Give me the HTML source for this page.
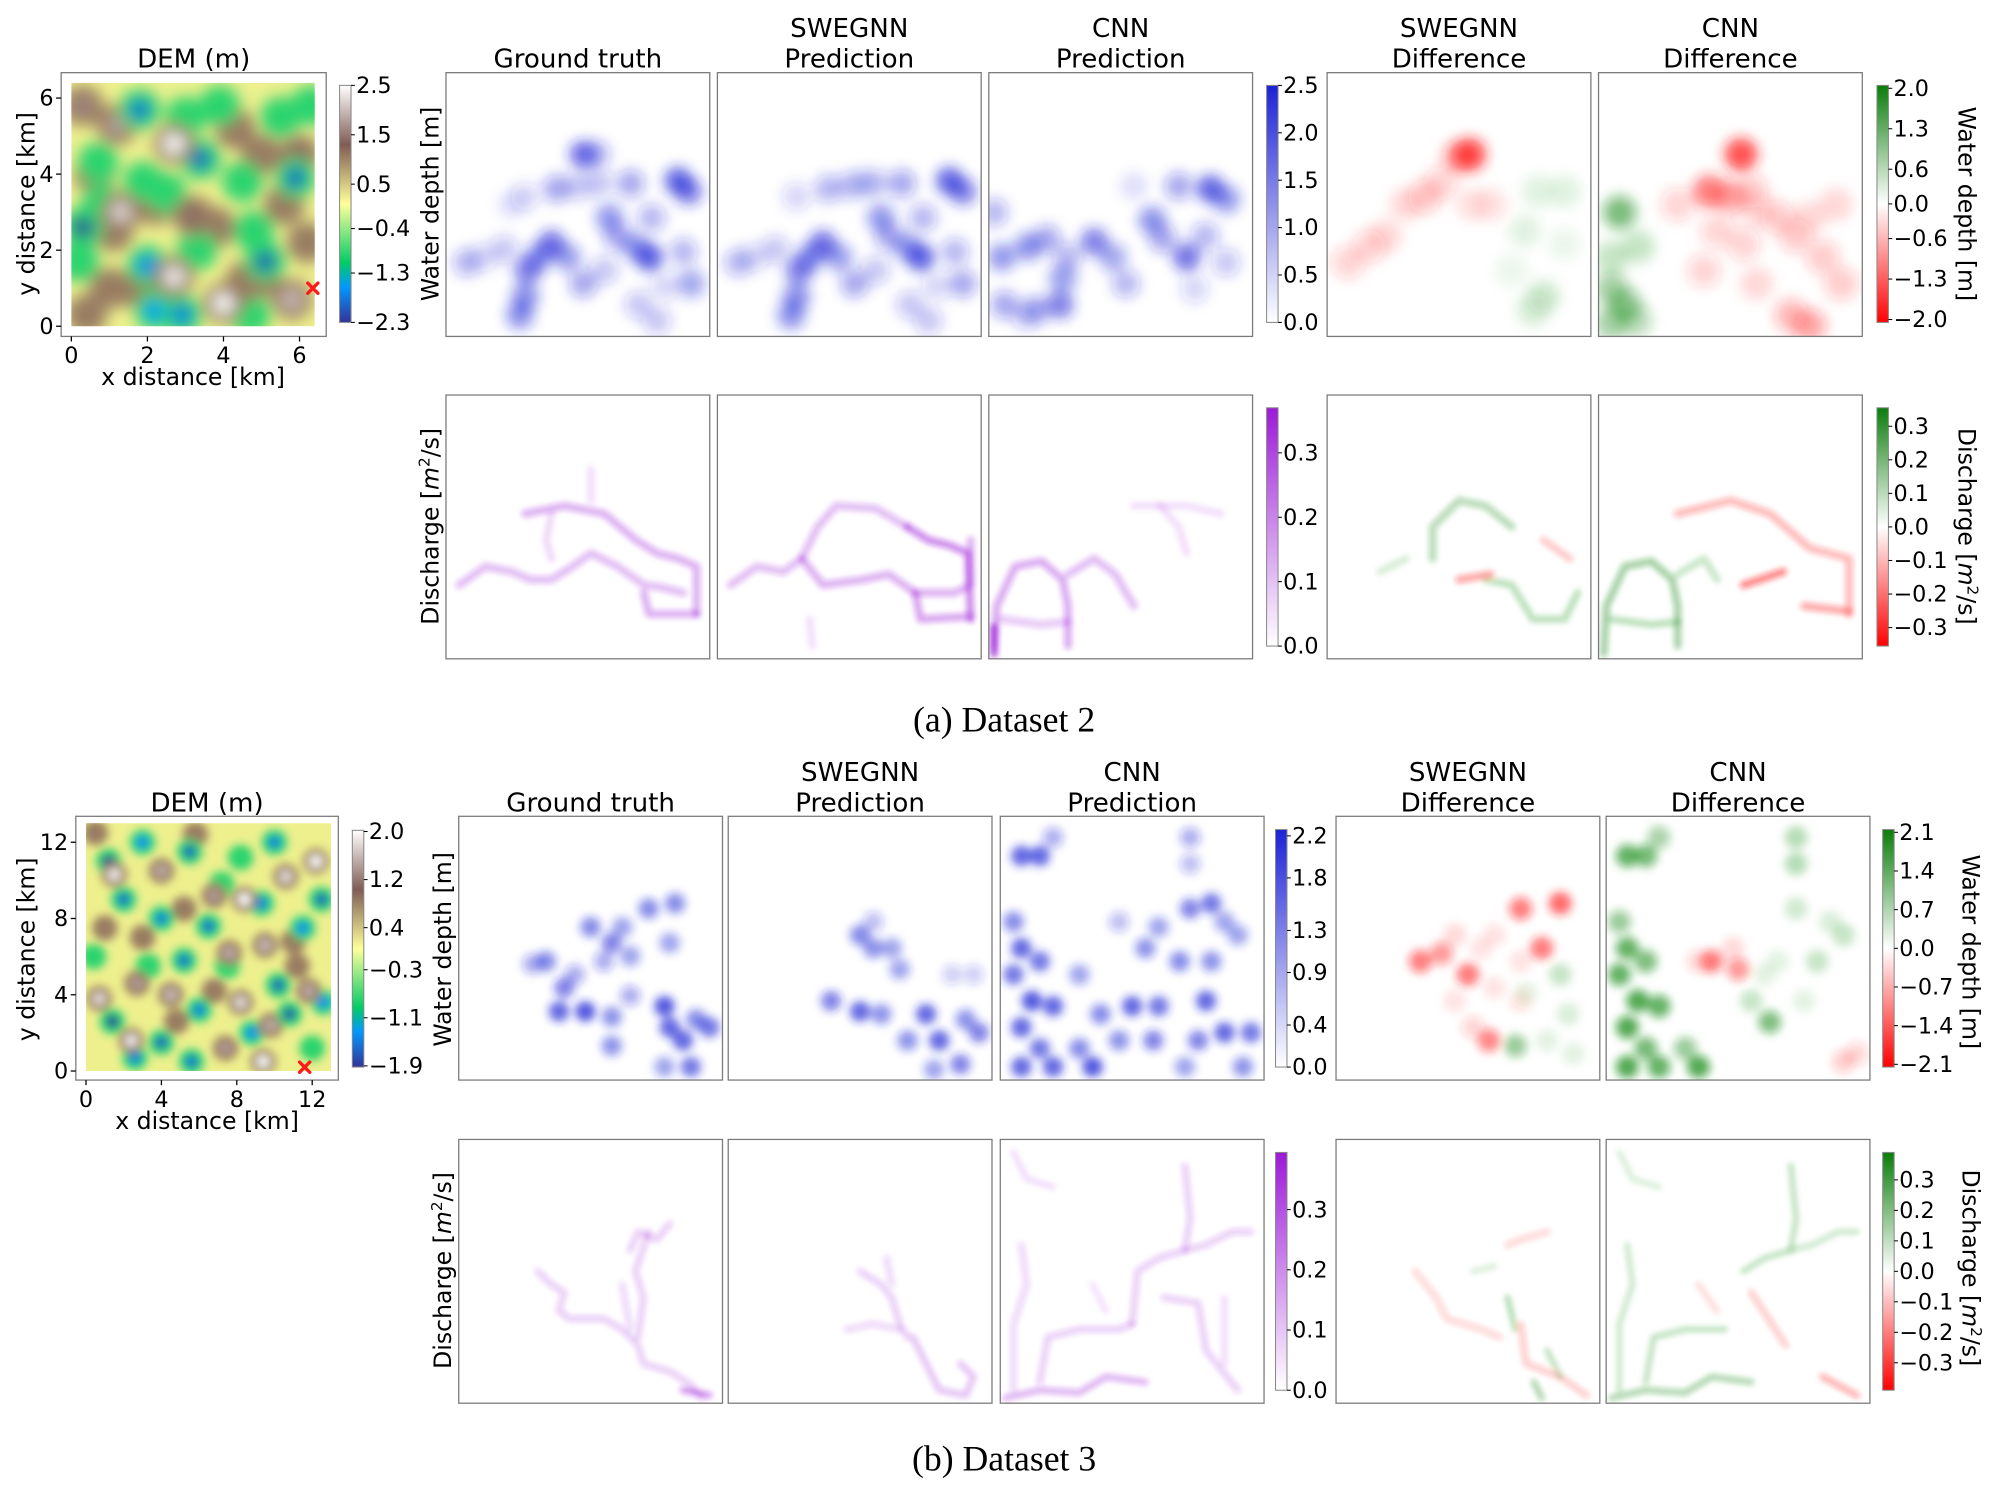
<!DOCTYPE html>
<html><head><meta charset="utf-8"><title>Flood prediction comparison</title>
<style>
html,body{margin:0;padding:0;background:#fff;}
svg{display:block;}
text{font-family:"DejaVu Sans","Liberation Sans",sans-serif;fill:#000;}
</style></head>
<body>
<svg id="fig" xmlns="http://www.w3.org/2000/svg" width="1998" height="1496" viewBox="0 0 1568 1174">
<defs>
<filter id="blurDemA" x="-20%" y="-20%" width="140%" height="140%"><feGaussianBlur stdDeviation="6"/></filter>
<filter id="blurDemB" x="-20%" y="-20%" width="140%" height="140%"><feGaussianBlur stdDeviation="3.5"/></filter>
<filter id="blurA" x="-20%" y="-20%" width="140%" height="140%"><feGaussianBlur stdDeviation="5"/></filter>
<filter id="blurB" x="-20%" y="-20%" width="140%" height="140%"><feGaussianBlur stdDeviation="3.5"/></filter>
<filter id="blurL" x="-20%" y="-20%" width="140%" height="140%"><feGaussianBlur stdDeviation="2"/></filter>
</defs>
</svg>
<script>
// ---------------- DATA ----------------
const demA = [[0.3,5.8,1.6],[1.2,5.3,1.8],[2.7,4.8,2.5],[1.3,3.0,2.2],[1.1,2.5,1.2],[3.2,2.9,1.4],[2.7,1.3,2.4],[4.0,0.6,2.5],[4.6,1.2,1.3],[5.8,0.7,2.0],[0.4,0.3,1.3],[1.0,1.0,1.2],[1.7,1.0,1.2],[5.0,1.3,1.0],[5.0,4.5,1.0],[4.3,5.2,0.8],[6.0,4.5,1.4],[6.2,2.2,1.2],[3.8,2.6,1.0],[0.6,4.0,0.6],[5.6,3.2,1.0],[2.2,3.2,0.6],
  [3.4,4.4,-2.0],[1.8,5.7,-1.9],[5.9,3.9,-2.0],[0.3,2.6,-2.3],[5.1,1.7,-2.1],[2.0,1.6,-1.7],[2.9,0.3,-1.8],[3.3,2.0,-1.3],[2.5,3.5,-1.1],[4.5,3.8,-1.0],[5.5,5.5,-1.1],[0.7,4.3,-1.0],[3.9,5.8,-1.0],[1.9,3.8,-1.0],[4.8,2.5,-1.0],[0.8,3.2,-0.9],[3.0,5.5,-0.9],[2.2,0.4,-1.6],[6.3,5.8,-1.2],[4.7,0.3,-1.0],[0.2,1.7,-0.9]];
const demB = [[1.2,11.0,-1.9],[3.0,12.0,-1.4],[5.5,11.5,-1.7],[8.2,11.2,-1.3],[10.0,12.0,-1.5],[12.5,9.0,-1.7],[2.0,9.0,-1.6],[4.0,8.0,-1.5],[6.5,7.6,-1.6],[9.3,8.8,-1.5],[11.5,7.5,-1.4],[0.4,6.0,-1.3],[3.3,5.5,-1.2],[5.2,5.8,-1.6],[7.5,5.5,-1.3],[10.2,4.5,-1.7],[12.6,3.6,-1.4],[1.4,2.6,-1.9],[4.0,1.5,-1.7],[6.0,3.2,-1.5],[8.8,2.0,-1.4],[10.8,3.0,-1.8],[2.6,0.7,-1.5],[5.6,0.5,-1.6],[12.0,1.2,-1.3],[7.2,9.8,-1.2],
  [1.5,10.3,1.9],[4.0,10.5,1.5],[6.8,9.2,1.4],[8.4,9.0,2.0],[10.6,10.2,1.8],[12.2,11.0,2.0],[1.0,7.5,1.3],[3.0,7.0,1.2],[5.2,8.5,1.3],[7.6,6.2,1.5],[9.5,6.6,1.6],[11.2,5.5,1.3],[0.7,3.8,1.8],[2.7,4.6,1.4],[4.5,4.0,1.6],[6.8,4.2,1.3],[8.2,3.6,1.8],[9.8,2.4,1.5],[11.8,4.2,1.5],[2.4,1.6,1.9],[4.8,2.6,1.2],[7.4,1.2,1.4],[9.4,0.5,2.0],[11.0,6.8,1.2],[5.8,12.4,1.2],[0.5,12.5,1.3]];

const wGtA = [[0.52,0.31,2.0],[0.57,0.31,1.0],[0.42,0.44,1.2],[0.5,0.43,0.8],[0.58,0.42,0.8],[0.7,0.42,1.2],[0.88,0.41,2.2],[0.92,0.45,1.8],[0.62,0.55,1.5],[0.65,0.62,1.2],[0.78,0.55,1.0],[0.77,0.7,2.3],[0.72,0.66,1.5],[0.9,0.68,1.0],[0.93,0.8,1.3],[0.83,0.81,0.6],[0.73,0.88,0.8],[0.8,0.94,0.8],[0.4,0.65,2.0],[0.35,0.7,1.6],[0.31,0.75,1.8],[0.3,0.85,1.6],[0.28,0.92,1.6],[0.46,0.7,1.4],[0.52,0.8,1.2],[0.22,0.67,0.8],[0.14,0.7,0.6],[0.08,0.72,1.0],[0.3,0.47,0.6],[0.25,0.5,0.4],[0.6,0.75,0.8]];
const wSweA = [[0.55,0.42,0.8],[0.42,0.44,1.0],[0.5,0.43,0.8],[0.6,0.42,0.8],[0.7,0.42,1.2],[0.88,0.41,2.2],[0.93,0.45,1.8],[0.62,0.55,1.5],[0.65,0.62,1.2],[0.78,0.55,1.0],[0.77,0.7,2.3],[0.72,0.66,1.5],[0.9,0.68,1.0],[0.93,0.8,1.2],[0.83,0.81,0.6],[0.73,0.88,0.8],[0.8,0.94,0.8],[0.4,0.65,2.0],[0.35,0.7,1.6],[0.31,0.75,1.8],[0.3,0.85,1.6],[0.28,0.92,1.6],[0.46,0.7,1.4],[0.52,0.8,1.2],[0.22,0.67,0.8],[0.14,0.7,0.6],[0.08,0.72,1.0],[0.3,0.47,0.6],[0.6,0.75,0.8]];
const wCnnA = [[0.02,0.53,1.0],[0.05,0.7,1.5],[0.15,0.66,1.6],[0.22,0.63,1.2],[0.3,0.7,1.0],[0.4,0.64,1.8],[0.47,0.7,1.3],[0.52,0.8,1.0],[0.28,0.78,1.4],[0.27,0.88,1.8],[0.18,0.9,1.2],[0.06,0.88,1.2],[0.14,0.92,0.8],[0.62,0.56,1.6],[0.66,0.63,1.2],[0.75,0.7,2.0],[0.82,0.62,1.0],[0.72,0.43,1.2],[0.84,0.44,2.2],[0.9,0.48,1.5],[0.9,0.72,0.8],[0.78,0.82,0.6],[0.55,0.43,0.4]];
const dSweA = [[0.54,0.31,-2.0],[0.5,0.32,-1.0],[0.37,0.47,-0.6],[0.43,0.42,-0.5],[0.3,0.5,-0.4],[0.08,0.72,-0.5],[0.16,0.66,-0.5],[0.22,0.62,-0.4],[0.55,0.5,-0.3],[0.62,0.5,-0.3],[0.75,0.6,0.3],[0.8,0.45,0.3],[0.9,0.45,0.3],[0.82,0.85,0.5],[0.78,0.9,0.4],[0.9,0.65,0.2],[0.7,0.75,0.2]];
const dCnnA = [[0.54,0.31,-2.0],[0.42,0.45,-1.5],[0.5,0.47,-1.0],[0.58,0.45,-0.6],[0.45,0.6,-0.5],[0.55,0.65,-0.5],[0.4,0.75,-0.5],[0.6,0.8,-0.4],[0.68,0.55,-0.6],[0.75,0.62,-0.6],[0.85,0.7,-0.6],[0.92,0.8,-0.6],[0.8,0.55,-0.4],[0.9,0.5,-0.4],[0.73,0.92,-0.8],[0.8,0.96,-1.0],[0.6,0.52,-0.4],[0.3,0.5,-0.5],[0.08,0.53,1.5],[0.05,0.7,0.6],[0.15,0.66,0.6],[0.05,0.82,1.0],[0.1,0.88,1.2],[0.05,0.95,1.0],[0.14,0.94,0.8]];

const wGtB = [[0.33,0.55,1.5],[0.28,0.56,1.0],[0.5,0.42,1.5],[0.58,0.48,1.6],[0.62,0.42,1.2],[0.55,0.55,1.0],[0.65,0.53,1.2],[0.72,0.35,1.5],[0.82,0.33,1.5],[0.8,0.48,1.2],[0.4,0.65,1.6],[0.38,0.74,2.0],[0.48,0.74,2.2],[0.58,0.76,1.4],[0.65,0.68,1.0],[0.78,0.72,2.2],[0.8,0.8,2.0],[0.85,0.85,2.0],[0.9,0.77,1.5],[0.95,0.8,1.8],[0.88,0.95,1.8],[0.78,0.95,1.2],[0.58,0.87,1.4],[0.44,0.6,1.0]];
const wSweB = [[0.5,0.45,1.5],[0.55,0.5,1.4],[0.62,0.5,1.2],[0.65,0.58,1.2],[0.39,0.7,1.6],[0.5,0.74,2.0],[0.58,0.75,1.4],[0.75,0.75,2.0],[0.8,0.85,2.0],[0.9,0.77,1.4],[0.95,0.82,1.6],[0.88,0.94,1.6],[0.78,0.96,1.2],[0.68,0.85,1.4],[0.85,0.6,0.6],[0.93,0.6,0.6],[0.55,0.4,0.8]];
const wCnnB = [[0.08,0.15,2.0],[0.15,0.15,2.0],[0.2,0.08,1.0],[0.05,0.4,1.5],[0.08,0.5,2.0],[0.05,0.6,1.8],[0.15,0.55,1.8],[0.12,0.7,2.2],[0.2,0.72,2.0],[0.08,0.8,2.0],[0.15,0.88,1.8],[0.08,0.95,2.0],[0.2,0.95,2.0],[0.35,0.95,2.2],[0.3,0.88,1.5],[0.38,0.75,1.5],[0.5,0.72,2.0],[0.6,0.72,1.8],[0.45,0.85,1.4],[0.58,0.85,1.6],[0.68,0.55,1.5],[0.55,0.5,1.4],[0.6,0.42,1.2],[0.72,0.35,1.6],[0.8,0.33,1.8],[0.85,0.4,1.2],[0.8,0.55,1.4],[0.9,0.45,1.2],[0.78,0.7,2.0],[0.85,0.82,2.0],[0.95,0.82,1.8],[0.75,0.85,1.6],[0.92,0.95,1.4],[0.7,0.95,1.2],[0.45,0.4,0.8],[0.72,0.18,0.8],[0.72,0.08,1.0],[0.3,0.6,1.2]];
const dSweB = [[0.32,0.55,-1.5],[0.4,0.52,-1.2],[0.5,0.6,-1.6],[0.7,0.35,-1.5],[0.85,0.33,-1.8],[0.78,0.5,-1.6],[0.58,0.85,-1.4],[0.52,0.8,-0.5],[0.45,0.45,-0.4],[0.55,0.5,-0.3],[0.6,0.65,-0.3],[0.45,0.7,-0.3],[0.7,0.7,-0.3],[0.7,0.55,-0.3],[0.6,0.45,-0.3],[0.68,0.87,1.2],[0.85,0.6,0.6],[0.88,0.75,0.4],[0.8,0.85,0.3],[0.9,0.9,0.3],[0.72,0.67,0.3]];
const dCnnB = [[0.4,0.55,-1.5],[0.5,0.58,-1.2],[0.35,0.55,-0.5],[0.48,0.5,-0.4],[0.9,0.93,-0.6],[0.95,0.9,-0.5],[0.08,0.15,1.8],[0.15,0.15,1.6],[0.2,0.08,1.0],[0.05,0.4,1.2],[0.08,0.5,1.8],[0.05,0.6,1.8],[0.15,0.55,1.5],[0.12,0.7,2.0],[0.2,0.72,1.8],[0.08,0.8,2.0],[0.15,0.88,1.6],[0.08,0.95,2.0],[0.2,0.95,1.8],[0.35,0.95,2.0],[0.3,0.88,1.2],[0.62,0.78,1.5],[0.55,0.7,0.6],[0.72,0.35,0.5],[0.85,0.4,0.4],[0.8,0.55,0.6],[0.9,0.45,0.6],[0.72,0.18,0.8],[0.72,0.08,0.8],[0.65,0.55,0.3],[0.75,0.7,0.3],[0.6,0.6,0.3]];

const qGtA = [{v:0.12,p:[[0.05,0.72],[0.15,0.65],[0.25,0.67],[0.32,0.7],[0.4,0.7],[0.48,0.65],[0.55,0.6],[0.65,0.65],[0.75,0.72],[0.82,0.73],[0.9,0.75]]},{v:0.14,p:[[0.3,0.45],[0.45,0.42],[0.6,0.45],[0.72,0.55],[0.8,0.6],[0.88,0.62],[0.95,0.65],[0.95,0.83]]},{v:0.14,p:[[0.75,0.75],[0.77,0.83],[0.95,0.83]]},{v:0.06,p:[[0.4,0.45],[0.38,0.55],[0.4,0.62]]},{v:0.05,p:[[0.55,0.28],[0.55,0.4]]}];
const qSweA = [{v:0.12,p:[[0.05,0.72],[0.15,0.65],[0.25,0.67],[0.32,0.62],[0.38,0.5],[0.45,0.42],[0.6,0.43],[0.72,0.5]]},{v:0.14,p:[[0.32,0.62],[0.4,0.72],[0.55,0.7],[0.65,0.68],[0.75,0.75],[0.9,0.75],[0.96,0.72],[0.96,0.55]]},{v:0.2,p:[[0.72,0.5],[0.8,0.55],[0.88,0.57],[0.95,0.6],[0.96,0.85]]},{v:0.16,p:[[0.75,0.75],[0.77,0.85],[0.96,0.84]]},{v:0.05,p:[[0.35,0.85],[0.36,0.95]]}];
const qCnnA = [{v:0.15,p:[[0.02,0.95],[0.03,0.8],[0.1,0.65],[0.2,0.63],[0.28,0.7],[0.3,0.8],[0.3,0.95]]},{v:0.12,p:[[0.3,0.68],[0.4,0.62],[0.48,0.68],[0.55,0.8]]},{v:0.1,p:[[0.05,0.85],[0.2,0.87],[0.3,0.86]]},{v:0.05,p:[[0.65,0.42],[0.72,0.5],[0.75,0.6]]},{v:0.05,p:[[0.55,0.42],[0.75,0.42],[0.88,0.45]]},{v:0.3,p:[[0.02,0.88],[0.02,0.98]]}];
const qdSweA = [{v:0.12,p:[[0.4,0.62],[0.4,0.5],[0.5,0.4],[0.6,0.42],[0.7,0.5]]},{v:0.1,p:[[0.6,0.7],[0.7,0.72],[0.78,0.85],[0.9,0.85],[0.95,0.75]]},{v:0.06,p:[[0.2,0.67],[0.3,0.62]]},{v:-0.15,p:[[0.5,0.7],[0.62,0.68]]},{v:-0.08,p:[[0.82,0.55],[0.92,0.62]]}];
const qdCnnA = [{v:0.15,p:[[0.02,0.98],[0.03,0.8],[0.1,0.65],[0.2,0.63],[0.28,0.7],[0.3,0.8],[0.3,0.95]]},{v:0.1,p:[[0.05,0.85],[0.2,0.87],[0.3,0.86]]},{v:0.08,p:[[0.3,0.68],[0.4,0.62],[0.45,0.7]]},{v:-0.12,p:[[0.3,0.45],[0.5,0.4],[0.65,0.45],[0.8,0.58],[0.95,0.62],[0.95,0.83]]},{v:-0.2,p:[[0.55,0.72],[0.7,0.67]]},{v:-0.15,p:[[0.78,0.8],[0.95,0.82]]}];

const qGtB = [{v:0.1,p:[[0.3,0.5],[0.35,0.55],[0.4,0.58],[0.38,0.65],[0.42,0.68],[0.55,0.68],[0.62,0.72],[0.68,0.78],[0.7,0.85],[0.8,0.88],[0.88,0.93],[0.92,0.98]]},{v:0.1,p:[[0.65,0.42],[0.68,0.35],[0.75,0.38],[0.8,0.32]]},{v:0.08,p:[[0.62,0.55],[0.65,0.72]]},{v:0.1,p:[[0.72,0.35],[0.67,0.5],[0.7,0.6],[0.68,0.75]]},{v:0.2,p:[[0.85,0.95],[0.95,0.97]]}];
const qSweB = [{v:0.1,p:[[0.5,0.5],[0.58,0.55],[0.62,0.6],[0.65,0.7],[0.68,0.75]]},{v:0.08,p:[[0.45,0.72],[0.55,0.7],[0.65,0.72]]},{v:0.12,p:[[0.7,0.75],[0.75,0.85],[0.8,0.95],[0.9,0.97],[0.93,0.9],[0.88,0.85]]},{v:0.08,p:[[0.6,0.45],[0.62,0.55]]}];
const qCnnB = [{v:0.15,p:[[0.02,0.98],[0.15,0.95],[0.3,0.96],[0.4,0.9],[0.55,0.92]]},{v:0.08,p:[[0.05,0.95],[0.05,0.7],[0.1,0.55],[0.08,0.4]]},{v:0.1,p:[[0.15,0.92],[0.18,0.75],[0.3,0.72],[0.45,0.72],[0.5,0.7]]},{v:0.1,p:[[0.5,0.7],[0.52,0.5],[0.6,0.45],[0.7,0.42],[0.72,0.3],[0.7,0.1]]},{v:0.1,p:[[0.7,0.42],[0.78,0.4],[0.88,0.35],[0.95,0.35]]},{v:0.1,p:[[0.62,0.6],[0.75,0.62],[0.78,0.8],[0.9,0.95]]},{v:0.06,p:[[0.05,0.05],[0.1,0.15],[0.2,0.18]]},{v:0.05,p:[[0.35,0.55],[0.4,0.65]]},{v:0.06,p:[[0.85,0.6],[0.85,0.85]]}];
const qdSweB = [{v:-0.08,p:[[0.3,0.5],[0.38,0.6],[0.42,0.68],[0.55,0.72],[0.62,0.75]]},{v:-0.08,p:[[0.65,0.4],[0.7,0.38],[0.8,0.35]]},{v:0.06,p:[[0.52,0.5],[0.6,0.48]]},{v:0.12,p:[[0.65,0.6],[0.68,0.72]]},{v:-0.1,p:[[0.7,0.7],[0.72,0.85],[0.85,0.9],[0.95,0.97]]},{v:0.1,p:[[0.8,0.8],[0.85,0.9]]},{v:0.15,p:[[0.75,0.92],[0.78,0.98]]}];
const qdCnnB = [{v:0.15,p:[[0.02,0.98],[0.15,0.95],[0.3,0.96],[0.4,0.9],[0.55,0.92]]},{v:0.08,p:[[0.05,0.95],[0.05,0.7],[0.1,0.55],[0.08,0.4]]},{v:0.1,p:[[0.15,0.92],[0.18,0.75],[0.3,0.72],[0.45,0.72]]},{v:0.1,p:[[0.52,0.5],[0.6,0.45],[0.7,0.42],[0.72,0.3],[0.7,0.1]]},{v:0.08,p:[[0.7,0.42],[0.78,0.4],[0.88,0.35],[0.95,0.35]]},{v:0.06,p:[[0.05,0.05],[0.1,0.15],[0.2,0.18]]},{v:-0.1,p:[[0.55,0.58],[0.68,0.78]]},{v:-0.15,p:[[0.82,0.9],[0.95,0.97]]},{v:-0.06,p:[[0.35,0.55],[0.42,0.65]]}];

const ticksDemA = [2.5,1.5,0.5,-0.4,-1.3,-2.3];
const ticksDemB = [2.0,1.2,0.4,-0.3,-1.1,-1.9];
const ticksWA = [0.0,0.5,1.0,1.5,2.0,2.5];
const ticksDWA = [2.0,1.3,0.6,0.0,-0.6,-1.3,-2.0];
const ticksQA = [0.0,0.1,0.2,0.3];
const ticksDQA = [0.3,0.2,0.1,0.0,-0.1,-0.2,-0.3];
const ticksWB = [0.0,0.4,0.9,1.3,1.8,2.2];
const ticksDWB = [2.1,1.4,0.7,0.0,-0.7,-1.4,-2.1];
const ticksQB = [0.0,0.1,0.2,0.3];
const ticksDQB = [0.3,0.2,0.1,0.0,-0.1,-0.2,-0.3];
const xTicksA = [0,2,4,6], yTicksA = [0,2,4,6];
const xTicksB = [0,4,8,12], yTicksB = [0,4,8,12];

// ---------------- DRAWING ----------------
const NS = 'http://www.w3.org/2000/svg';
const svg = document.getElementById('fig');
const defs = svg.querySelector('defs');
let uid = 0;
function mk(tag, attrs, parent) {
  const e = document.createElementNS(NS, tag);
  for (const k in attrs) e.setAttribute(k, attrs[k]);
  (parent || svg).appendChild(e);
  return e;
}
function fmt(v) { const s = v.toFixed(1); return v < 0 ? '\u2212' + s.slice(1) : s; }
const TER = [[0,[51,51,153]],[0.15,[0,153,255]],[0.25,[0,204,102]],[0.5,[255,255,153]],[0.75,[128,92,84]],[1,[255,255,255]]];
function terrain(t) {
  t = Math.max(0, Math.min(1, t));
  for (let i = 1; i < TER.length; i++) {
    if (t <= TER[i][0]) {
      const a = TER[i-1], b = TER[i], f = (t - a[0]) / (b[0] - a[0]);
      return 'rgb(' + a[1].map((c, j) => Math.round(c + (b[1][j] - c) * f)).join(',') + ')';
    }
  }
  return 'rgb(255,255,255)';
}
function gradient(stops) {
  const id = 'g' + (uid++);
  const g = mk('linearGradient', {id: id, x1: 0, y1: 1, x2: 0, y2: 0}, defs);
  stops.forEach(s => mk('stop', {offset: s[0], 'stop-color': s[1]}, g));
  return id;
}
function clip(x, y, w, h) {
  const id = 'c' + (uid++);
  const c = mk('clipPath', {id: id}, defs);
  mk('rect', {x: x, y: y, width: w, height: h}, c);
  return id;
}
function frame(x, y, w, h, name) {
  const r = mk('rect', {x: x, y: y, width: w, height: h, fill: 'none', stroke: '#7a7a7a', 'stroke-width': 1});
  
  
}
function label(x, y, str, size, anchor, name, extra) {
  const t = mk('text', Object.assign({x: x, y: y, 'font-size': size, 'text-anchor': anchor || 'middle'}, extra || {}));
  t.textContent = str;
  
  
  return t;
}
function blobPanel(x, y, w, h, blobs, color, max, r, filt, name) {
  const g = mk('g', {'clip-path': 'url(#' + clip(x, y, w, h) + ')'});
  
  
  const inner = mk('g', {filter: 'url(#' + filt + ')'}, g);
  const sx = u => x + u * w, sy = v => y + v * h;
  blobs.forEach(b => {
    const c = typeof color === 'function' ? color(b[2]) : color;
    const c1 = mk('circle', {cx: sx(b[0]), cy: sy(b[1]), r: r, fill: c, 'fill-opacity': Math.min(1, Math.abs(b[2]) / max * 0.75)}, inner);
    
    
  });
  frame(x, y, w, h, name);
}
function linePanel(x, y, w, h, lines, color, max, sw, name) {
  const g = mk('g', {'clip-path': 'url(#' + clip(x, y, w, h) + ')'});
  
  
  const inner = mk('g', {filter: 'url(#blurL)'}, g);
  const sx = u => x + u * w, sy = v => y + v * h;
  lines.forEach(l => {
    const c = typeof color === 'function' ? color(l.v) : color;
    const pl = mk('polyline', {points: l.p.map(p => sx(p[0]) + ',' + sy(p[1])).join(' '), fill: 'none', stroke: c, 'stroke-width': sw, 'stroke-linejoin': 'round', 'stroke-linecap': 'round', 'stroke-opacity': Math.min(1, Math.abs(l.v) / max * 0.9)}, inner);
    
    
  });
  frame(x, y, w, h, name);
}
function colorbar(x, y0, y1, w, vmin, vmax, stops, ticks, name) {
  const id = gradient(stops);
  const r = mk('rect', {x: x, y: y0, width: w, height: y1 - y0, fill: 'url(#' + id + ')', stroke: '#888', 'stroke-width': 0.8});
  
  
  const sy = v => y1 - (v - vmin) / (vmax - vmin) * (y1 - y0);
  ticks.forEach(t => {
    mk('line', {x1: x + w, x2: x + w + 3, y1: sy(t), y2: sy(t), stroke: '#000', 'stroke-width': 0.8});
    label(x + w + 4, sy(t) + 6, fmt(t), 17.5, 'start', name + '-tick');
  });
}
const sgnColor = v => v < 0 ? '#ff1a1a' : '#138a13';
const BLUE = '#1c22d6', PURPLE = '#9c1ad8';
const blueStops = [[0, '#ffffff'], [1, BLUE]];
const purpStops = [[0, '#ffffff'], [1, PURPLE]];
const diffStops = [[0, '#ff0000'], [0.5, '#ffffff'], [1, '#0a7d0a']];

function dem(bx, by, bw, bh, x0, x1, y0, y1, kmMax, blobs, hmin, hmax, r, filt, xt, yt, name) {
  const g = mk('g', {'clip-path': 'url(#' + clip(x0, y1, x1 - x0, y0 - y1) + ')'});
  
  
  const sx = k => x0 + k / kmMax * (x1 - x0), sy = k => y0 - k / kmMax * (y0 - y1);
  mk('rect', {x: x0, y: y1, width: x1 - x0, height: y0 - y1, fill: '#eef08e'}, g);
  const inner = mk('g', {filter: 'url(#' + filt + ')'}, g);
  const sorted = blobs.slice().sort((a, b) => Math.abs(a[2]) - Math.abs(b[2]));
  sorted.forEach(b => {
    const t = (b[2] - hmin) / (hmax - hmin);
    const c1 = mk('circle', {cx: sx(b[0]), cy: sy(b[1]), r: r, fill: terrain(b[2] < 0 ? 0.29 : 0.7)}, inner);
    
    
    if (Math.abs(b[2]) > 1.35) {
      const c2 = mk('circle', {cx: sx(b[0]), cy: sy(b[1]), r: r * 0.5, fill: terrain(t)}, inner);
      
      
    }
  });
  frame(bx, by, bw, bh, name);
  xt.forEach(k => { mk('line', {x1: sx(k), x2: sx(k), y1: by + bh, y2: by + bh + 4, stroke: '#000'}); label(sx(k), by + bh + 21, String(k), 17.5, 'middle', name + '-x-tick'); });
  yt.forEach(k => { mk('line', {x1: bx - 4, x2: bx, y1: sy(k), y2: sy(k), stroke: '#000'}); label(bx - 6, sy(k) + 6, String(k), 17.5, 'end', name + '-y-tick'); });
  return {sx: sx, sy: sy};
}
function marker(x, y, name) {
  const g = mk('g', {stroke: '#ff1a1a', 'stroke-width': 2.6, 'stroke-linecap': 'round'});
  
  
  mk('line', {x1: x - 4, y1: y - 4, x2: x + 4, y2: y + 4}, g);
  mk('line', {x1: x - 4, y1: y + 4, x2: x + 4, y2: y - 4}, g);
}
function rotLabel(x, y, angle, parts, name) {
  const t = mk('text', {x: 0, y: 0, 'font-size': 18.5, 'text-anchor': 'middle', transform: 'translate(' + x + ',' + y + ') rotate(' + angle + ')'});
  
  
  parts.forEach(p => { const s = mk('tspan', p[1] || {}, t); s.textContent = p[0]; });
}
const disParts = [['Discharge ['], ['m', {'font-style': 'italic'}], ['2', {'font-size': 12, dy: -7}], ['/s]', {dy: 7}]];

// ===== Part (a) =====
const da = dem(48, 57, 208, 207, 56, 247, 256, 65, 6.4, demA, -2.3, 2.5, 16, 'blurDemA', xTicksA, yTicksA, 'dem-a');
marker(da.sx(6.35), da.sy(1.0), 'outlet-marker-a');
label(152, 53, 'DEM (m)', 20.5, 'middle', 'dem-a-title');
label(151.5, 302, 'x distance [km]', 18.5, 'middle', 'dem-a-x-axis-title');
rotLabel(27, 160, -90, [['y distance [km]']], 'dem-a-y-axis-title');
colorbar(266.5, 67, 253, 9, -2.3, 2.5, [[0,'#333399'],[0.15,'#0099ff'],[0.25,'#00cc66'],[0.5,'#ffff99'],[0.75,'#805c54'],[1,'#ffffff']], ticksDemA, 'dem-a-colorbar');

const pxA = [350, 563, 776, 1041.5, 1254.5], pw = 207;
const titles = [['', 'Ground truth'], ['SWEGNN', 'Prediction'], ['CNN', 'Prediction'], ['SWEGNN', 'Difference'], ['CNN', 'Difference']];
function titlesAt(xs, y1, y2, tag) {
  xs.forEach((x, i) => {
    if (titles[i][0]) label(x + pw / 2, y1, titles[i][0], 20.5, 'middle', tag + '-title-top-' + i);
    label(x + pw / 2, y2, titles[i][1], 20.5, 'middle', tag + '-title-' + i);
  });
}
titlesAt(pxA, 29, 53, 'a');
blobPanel(pxA[0], 57, pw, 207, wGtA, BLUE, 2.5, 11, 'blurA', 'a-depth-ground-truth');
blobPanel(pxA[1], 57, pw, 207, wSweA, BLUE, 2.5, 11, 'blurA', 'a-depth-swegnn');
blobPanel(pxA[2], 57, pw, 207, wCnnA, BLUE, 2.5, 11, 'blurA', 'a-depth-cnn');
blobPanel(pxA[3], 57, pw, 207, dSweA, sgnColor, 2.0, 13, 'blurA', 'a-depth-swegnn-diff');
blobPanel(pxA[4], 57, pw, 207, dCnnA, sgnColor, 2.0, 13, 'blurA', 'a-depth-cnn-diff');
colorbar(994, 67, 253, 9, 0, 2.5, blueStops, ticksWA, 'a-depth-colorbar');
colorbar(1473, 67, 253, 9, -2.05, 2.05, diffStops, ticksDWA, 'a-depth-diff-colorbar');
rotLabel(344, 160, -90, [['Water depth [m]']], 'a-depth-y-title');
rotLabel(1537, 160, 90, [['Water depth [m]']], 'a-depth-diff-title');

linePanel(pxA[0], 310, pw, 207, qGtA, PURPLE, 0.37, 6, 'a-discharge-ground-truth');
linePanel(pxA[1], 310, pw, 207, qSweA, PURPLE, 0.37, 6, 'a-discharge-swegnn');
linePanel(pxA[2], 310, pw, 207, qCnnA, PURPLE, 0.37, 6, 'a-discharge-cnn');
linePanel(pxA[3], 310, pw, 207, qdSweA, sgnColor, 0.36, 6, 'a-discharge-swegnn-diff');
linePanel(pxA[4], 310, pw, 207, qdCnnA, sgnColor, 0.36, 6, 'a-discharge-cnn-diff');
colorbar(994, 320, 507, 9, 0, 0.37, purpStops, ticksQA, 'a-discharge-colorbar');
colorbar(1473, 320, 507, 9, -0.355, 0.355, diffStops, ticksDQA, 'a-discharge-diff-colorbar');
rotLabel(344, 413, -90, disParts, 'a-discharge-y-title');
rotLabel(1537, 413, 90, disParts, 'a-discharge-diff-title');
label(788, 574, '(a) Dataset 2', 28, 'middle', 'caption-a', {style: 'font-family:"Liberation Serif",serif'});

// ===== Part (b) =====
const db = dem(59.5, 640.6, 206, 207, 67.5, 259.8, 840.5, 646, 13.0, demB, -1.9, 2.0, 10, 'blurDemB', xTicksB, yTicksB, 'dem-b');
marker(db.sx(11.6), db.sy(0.2), 'outlet-marker-b');
label(162.5, 637, 'DEM (m)', 20.5, 'middle', 'dem-b-title');
label(162.5, 886, 'x distance [km]', 18.5, 'middle', 'dem-b-x-axis-title');
rotLabel(27, 745, -90, [['y distance [km]']], 'dem-b-y-axis-title');
colorbar(276.5, 651.6, 837.4, 9, -1.92, 2.02, [[0,'#333399'],[0.15,'#0099ff'],[0.25,'#00cc66'],[0.5,'#ffff99'],[0.75,'#805c54'],[1,'#ffffff']], ticksDemB, 'dem-b-colorbar');

const pxB = [360, 571.5, 785, 1048.5, 1260.5];
titlesAt(pxB, 613, 637, 'b');
blobPanel(pxB[0], 640.6, pw, 207, wGtB, BLUE, 2.2, 8, 'blurB', 'b-depth-ground-truth');
blobPanel(pxB[1], 640.6, pw, 207, wSweB, BLUE, 2.2, 8, 'blurB', 'b-depth-swegnn');
blobPanel(pxB[2], 640.6, pw, 207, wCnnB, BLUE, 2.2, 8, 'blurB', 'b-depth-cnn');
blobPanel(pxB[3], 640.6, pw, 207, dSweB, sgnColor, 2.1, 9, 'blurB', 'b-depth-swegnn-diff');
blobPanel(pxB[4], 640.6, pw, 207, dCnnB, sgnColor, 2.1, 9, 'blurB', 'b-depth-cnn-diff');
colorbar(1001, 651, 837.4, 9, 0, 2.26, blueStops, ticksWB, 'b-depth-colorbar');
colorbar(1477.5, 651, 837.4, 9, -2.15, 2.15, diffStops, ticksDWB, 'b-depth-diff-colorbar');
rotLabel(354, 745, -90, [['Water depth [m]']], 'b-depth-y-title');
rotLabel(1540, 747, 90, [['Water depth [m]']], 'b-depth-diff-title');

linePanel(pxB[0], 894.2, pw, 207, qGtB, PURPLE, 0.4, 5, 'b-discharge-ground-truth');
linePanel(pxB[1], 894.2, pw, 207, qSweB, PURPLE, 0.4, 5, 'b-discharge-swegnn');
linePanel(pxB[2], 894.2, pw, 207, qCnnB, PURPLE, 0.4, 5, 'b-discharge-cnn');
linePanel(pxB[3], 894.2, pw, 207, qdSweB, sgnColor, 0.39, 5, 'b-discharge-swegnn-diff');
linePanel(pxB[4], 894.2, pw, 207, qdCnnB, sgnColor, 0.39, 5, 'b-discharge-cnn-diff');
colorbar(1001, 904.4, 1091, 9, 0, 0.395, purpStops, ticksQB, 'b-discharge-colorbar');
colorbar(1477.5, 904.4, 1091, 9, -0.39, 0.39, diffStops, ticksDQB, 'b-discharge-diff-colorbar');
rotLabel(354, 997, -90, disParts, 'b-discharge-y-title');
rotLabel(1540, 995, 90, disParts, 'b-discharge-diff-title');
label(788, 1154, '(b) Dataset 3', 28, 'middle', 'caption-b', {style: 'font-family:"Liberation Serif",serif'});
</script>
</body></html>
